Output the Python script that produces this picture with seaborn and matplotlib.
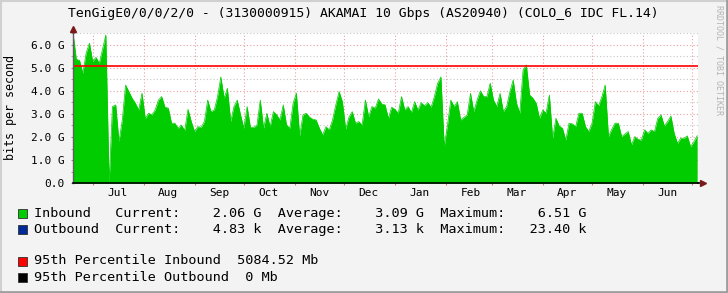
import numpy as np
import pandas as pd
import matplotlib
matplotlib.use("Agg")
import matplotlib.pyplot as plt
import matplotlib.dates as mdates
from matplotlib.ticker import MultipleLocator, FuncFormatter, NullFormatter
from matplotlib.patches import Rectangle
from matplotlib.lines import Line2D
import seaborn as sns

# ---------------- data ----------------
title = "TenGigE0/0/0/2/0 - (3130000915) AKAMAI 10 Gbps (AS20940) (COLO_6 IDC FL.14)"
start_date = "2014-06-19"
step_days = 2
inbound_g = [
    6.5, 5.37, 5.31, 4.76, 5.63, 6.06, 5.27, 5.45, 5.19, 5.80, 6.42,
    0.0,
    3.32, 3.39, 1.8, 2.74, 4.25, 3.97, 3.68, 3.46, 3.17, 3.9, 2.8, 3.03,
    2.96, 3.17, 3.6, 3.75, 3.29, 3.25, 2.6, 2.6, 2.38, 2.52, 2.28, 3.2,
    2.67, 2.24, 2.45, 2.42, 2.67, 3.6, 3.1, 3.17, 3.75, 4.6, 3.68, 4.11,
    2.67, 3.32, 3.6, 2.96, 2.38, 3.32, 2.42, 2.42, 2.52, 3.6, 2.38, 3.03,
    2.45, 3.1, 2.96, 2.74, 3.39, 2.52, 2.38, 3.46, 3.9, 2.05, 2.96,
    3.03, 2.86, 2.77, 2.74, 2.38, 2.09, 2.45, 2.31, 2.74, 3.39, 3.97, 3.53,
    2.34, 2.86, 3.1, 2.6, 2.67, 2.52, 3.6, 2.88, 3.32, 3.25, 3.65, 3.43,
    3.39, 2.81, 3.29, 3.2, 3.03, 3.75, 3.17, 3.32, 3.06, 3.53, 3.17, 3.49,
    3.35, 3.49, 3.29, 3.75, 4.33, 4.6, 1.6, 2.52, 3.6, 3.32, 3.53, 2.74,
    2.85, 2.96, 3.89, 3.1, 3.6, 4.0, 3.75, 3.75, 4.33, 3.6, 3.32, 3.89,
    3.1, 3.32, 3.97, 4.47, 3.46, 3.03, 4.9, 5.12, 3.82, 3.68, 3.46, 2.81,
    3.17, 3.03, 3.82, 1.95, 2.81, 2.48, 2.38, 1.87, 2.6, 2.57, 2.45, 3.03,
    3.03, 2.45, 2.24, 2.6, 3.53, 3.35, 3.75, 4.25, 2.02, 2.34, 2.6, 2.6,
    2.02, 2.13, 2.24, 1.66, 2.02, 1.9, 1.87, 2.31, 2.16, 2.31, 2.24, 2.81,
    2.96, 2.48, 2.67, 2.91, 2.16, 1.73, 1.95, 1.95, 2.05, 1.58, 1.8, 2.06,
]
pct95_inbound_g = 5.08452
y_ticks = [0, 1, 2, 3, 4, 5, 6]
legend_names = ["Inbound", "Outbound", "95th Percentile Inbound", "95th Percentile Outbound"]
legend_colors = ["#00CC00", "#002A97", "#FF0000", "#000000"]
legend_lines = [
    "Inbound   Current:    2.06 G  Average:    3.09 G  Maximum:    6.51 G",
    "Outbound  Current:    4.83 k  Average:    3.13 k  Maximum:   23.40 k",
    "95th Percentile Inbound  5084.52 Mb",
    "95th Percentile Outbound  0 Mb",
]
watermark = "RRDTOOL / TOBI OETIKER"
# --------------------------------------

dates = pd.date_range(start_date, periods=len(inbound_g), freq=f"{step_days}D")
df = pd.DataFrame({"date": dates, "inbound": inbound_g})

plt.rcParams["font.family"] = ["DejaVu Sans Mono", "DejaVu Sans"]

W, H = 728, 293
fig = plt.figure(figsize=(W / 100, H / 100), dpi=100, facecolor="#F3F3F3")

def fx(x):
    return x / W

def fy(y):
    return 1 - y / H

ax = fig.add_axes([fx(73), fy(183.3), 625 / W, 150.3 / H])
ax.set_facecolor("#FFFFFF")

ax.fill_between(df["date"], df["inbound"], color="#00CC00", linewidth=0, zorder=2)
sns.lineplot(data=df, x="date", y="inbound", ax=ax, color="#00CC00",
             linewidth=0.5, zorder=2)
ax.axhline(pct95_inbound_g, color="#FF0000", lw=1.2, zorder=3)

ax.set_ylim(0, 6.5)
x0 = pd.Timestamp(start_date)
ax.set_xlim(x0, x0 + pd.Timedelta(days=380.5))

ax.set_yticks(y_ticks)
ax.yaxis.set_minor_locator(MultipleLocator(0.5))
ax.yaxis.set_major_formatter(FuncFormatter(lambda v, p: "0.0" if v == 0 else f"{v:.1f} G"))
ax.yaxis.grid(True, which="major", color="#EBA0A0", ls=(0, (1, 2)), lw=0.8, zorder=1)
ax.yaxis.grid(True, which="minor", color="#C8C8C8", ls=(0, (1, 2)), lw=0.8, zorder=1)

ax.xaxis.set_major_locator(mdates.MonthLocator())
ax.xaxis.set_major_formatter(NullFormatter())
ax.xaxis.set_minor_locator(mdates.MonthLocator(bymonthday=16))
ax.xaxis.set_minor_formatter(mdates.DateFormatter("%b"))
ax.xaxis.grid(True, which="major", color="#E8A0A0", ls=(0, (1, 2)), lw=0.8, zorder=1)
ax.set_axisbelow(True)

ax.tick_params(axis="x", which="major", length=3, direction="inout", color="#E07070")
ax.tick_params(axis="x", which="minor", length=0, pad=3.5, labelsize=8)
ax.tick_params(axis="y", which="both", length=3, direction="inout", color="#909090",
               labelsize=8, pad=4.5)

ax.set_xlabel("")
ax.set_ylabel("")
for s in ["top", "right"]:
    ax.spines[s].set_visible(False)
ax.spines["left"].set_color("#606060")
ax.spines["left"].set_linewidth(1)
ax.spines["bottom"].set_color("#000000")
ax.spines["bottom"].set_linewidth(1.2)
ax.spines["left"].set_zorder(4)
ax.spines["bottom"].set_zorder(4)

# axis arrows
ax.plot([1, 1.007], [0, 0], transform=ax.transAxes, color="#000000", lw=1.2, clip_on=False, zorder=5)
ax.plot([1.008], [0], transform=ax.transAxes, marker=">", ms=4.5, color="#7A1A1A",
        clip_on=False, zorder=5)
ax.plot([0, 0], [1, 1.02], transform=ax.transAxes, color="#606060", lw=1, clip_on=False, zorder=5)
ax.plot([0], [1.025], transform=ax.transAxes, marker="^", ms=4.5, color="#7A1A1A",
        clip_on=False, zorder=5)

# title, axis label, watermark
fig.text(fx(363), fy(13.5), title, ha="center", va="center", fontsize=9.45, color="#000000")
fig.text(fx(10.5), fy(107), "bits per second", rotation=90, ha="center", va="center",
         fontsize=8.4, color="#000000")
fig.text(fx(719), fy(60), watermark, rotation=270, ha="center", va="center",
         fontsize=6, color="#B4B4B4")

# legend
rows_y = [213.3, 229.3, 261.0, 277.3]
for yc, col, line in zip(rows_y, legend_colors, legend_lines):
    fig.add_artist(Rectangle((fx(18), fy(yc + 4.5)), 9 / W, 9 / H, transform=fig.transFigure,
                             facecolor=col, edgecolor="#303030", lw=0.6))
    fig.text(fx(34), fy(yc), line, ha="left", va="center", fontsize=9.7, color="#000000")

# outer frame shading
fig.add_artist(Line2D([0, 1], [fy(0.5), fy(0.5)], transform=fig.transFigure, color="#D0D0D0", lw=1.5))
fig.add_artist(Line2D([fx(0.5), fx(0.5)], [0, 1], transform=fig.transFigure, color="#D0D0D0", lw=1.5))
fig.add_artist(Line2D([0, 1], [fy(292), fy(292)], transform=fig.transFigure, color="#9E9E9E", lw=2))
fig.add_artist(Line2D([fx(727), fx(727)], [0, 1], transform=fig.transFigure, color="#9E9E9E", lw=2))

fig.savefig("out.png", dpi=100, facecolor=fig.get_facecolor())
